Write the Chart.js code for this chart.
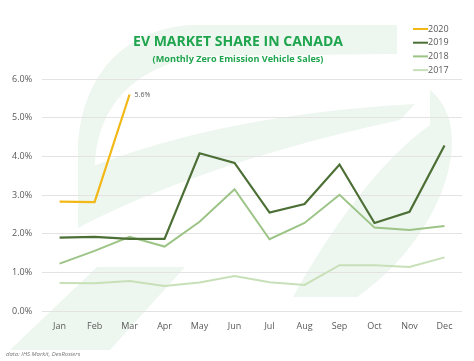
<!DOCTYPE html>
<html>
<head>
<meta charset="utf-8">
<script src="https://cdn.jsdelivr.net/npm/chart.js@4/dist/chart.umd.min.js"></script>
<style>
  html, body { margin: 0; padding: 0; background: #fff; }
  #wrap { width: 474px; height: 361px; position: relative; }
</style>
</head>
<body>
<div id="wrap"><canvas id="chart" width="474" height="361"></canvas></div>
<script>
const months = ["Jan", "Feb", "Mar", "Apr", "May", "Jun", "Jul", "Aug", "Sep", "Oct", "Nov", "Dec"];
const share2020 = [2.83, 2.82, 5.6];
const share2019 = [1.90, 1.92, 1.87, 1.87, 4.08, 3.83, 2.55, 2.77, 3.79, 2.28, 2.57, 4.28];
const share2018 = [1.23, 1.56, 1.92, 1.67, 2.31, 3.15, 1.86, 2.28, 3.01, 2.16, 2.10, 2.20];
const share2017 = [0.73, 0.72, 0.78, 0.65, 0.74, 0.91, 0.75, 0.68, 1.19, 1.19, 1.14, 1.39];
const yTicks = [0, 1, 2, 3, 4, 5, 6];

const green = "#1fa54d";

// faint leaf watermark behind the plot
const watermark = {
  id: "watermark",
  beforeDraw(c) {
    const ctx = c.ctx;
    ctx.save();
    ctx.fillStyle = "#eef6f0";
    // top arch
    ctx.beginPath();
    ctx.moveTo(78, 228);
    ctx.lineTo(78, 150);
    ctx.bezierCurveTo(80, 80, 120, 30, 190, 25);
    ctx.lineTo(397, 25);
    ctx.lineTo(397, 54);
    ctx.lineTo(200, 56);
    ctx.bezierCurveTo(120, 70, 95, 120, 95, 170);
    ctx.lineTo(95, 215);
    ctx.closePath();
    ctx.fill();
    // diagonal band
    ctx.beginPath();
    ctx.moveTo(78, 172);
    ctx.bezierCurveTo(180, 130, 300, 110, 415, 104);
    ctx.lineTo(400, 120);
    ctx.bezierCurveTo(260, 150, 150, 190, 78, 228);
    ctx.closePath();
    ctx.fill();
    // right leaf
    ctx.beginPath();
    ctx.moveTo(430, 90);
    ctx.bezierCurveTo(480, 130, 440, 240, 357, 297);
    ctx.lineTo(293, 297);
    ctx.bezierCurveTo(330, 230, 380, 160, 430, 125);
    ctx.closePath();
    ctx.fill();
    // bottom-left band
    ctx.beginPath();
    ctx.moveTo(10, 350);
    ctx.lineTo(97, 267);
    ctx.lineTo(185, 267);
    ctx.lineTo(110, 350);
    ctx.closePath();
    ctx.fill();
    ctx.restore();
  }
};

function fitFont(ctx, text, weight, family, width) {
  ctx.font = weight + " 20px " + family;
  const w = ctx.measureText(text).width;
  return weight + " " + (20 * width / w).toFixed(2) + "px " + family;
}

const overlay = {
  id: "overlay",
  afterDraw(c) {
    const ctx = c.ctx;
    ctx.save();
    ctx.textAlign = "center";
    ctx.textBaseline = "middle";
    ctx.fillStyle = green;
    const title = "EV MARKET SHARE IN CANADA";
    const sub = "(Monthly Zero Emission Vehicle Sales)";
    ctx.font = fitFont(ctx, title, "bold", "'Open Sans'", 210);
    ctx.fillText(title, 238, 42);
    ctx.font = fitFont(ctx, sub, "bold", "'Open Sans'", 171);
    ctx.fillText(sub, 238, 59);

    // legend
    const items = c.data.datasets;
    ctx.textAlign = "left";
    ctx.font = "9px 'Open Sans'";
    items.forEach((ds, i) => {
      const y = 29 + i * 13.7;
      ctx.strokeStyle = ds.borderColor;
      ctx.lineWidth = 2;
      ctx.beginPath();
      ctx.moveTo(413, y);
      ctx.lineTo(428, y);
      ctx.stroke();
      ctx.fillStyle = "#595959";
      ctx.fillText(ds.label, 428, y);
    });

    // value label on last 2020 point
    const meta = c.getDatasetMeta(0);
    const pt = meta.data[share2020.length - 1];
    ctx.font = "7px 'Open Sans'";
    ctx.fillStyle = "#595959";
    ctx.fillText(share2020[share2020.length - 1].toFixed(1) + "%", pt.x + 5, pt.y + 1);

    ctx.font = "italic 6px 'Open Sans'";
    ctx.fillStyle = "#777";
    ctx.fillText("data: IHS Markit, DesRosiers", 6, 354);
    ctx.restore();
  }
};

new Chart(document.getElementById("chart"), {
  type: "line",
  data: {
    labels: months,
    datasets: [
      { label: "2020", data: share2020, borderColor: "#f2b817", borderWidth: 2.2 },
      { label: "2019", data: share2019, borderColor: "#4c6f35", borderWidth: 2.2 },
      { label: "2018", data: share2018, borderColor: "#9cc486", borderWidth: 2 },
      { label: "2017", data: share2017, borderColor: "#c8e0b8", borderWidth: 2 }
    ]
  },
  options: {
    responsive: false,
    animation: false,
    elements: { point: { radius: 0 }, line: { tension: 0 } },
    layout: { padding: { top: 79, right: 12, bottom: 19, left: 2 } },
    plugins: { legend: { display: false }, title: { display: false }, tooltip: { enabled: false } },
    scales: {
      x: {
        offset: true,
        grid: { display: false, drawTicks: false, tickLength: 0 },
        border: { display: false },
        ticks: { color: "#595959", font: { family: "Open Sans", size: 9 }, padding: 10 }
      },
      y: {
        min: 0, max: 6,
        afterBuildTicks(ax) { ax.ticks = yTicks.map(v => ({ value: v })); },
        grid: { color: "#e3e3e3", lineWidth: 1, drawTicks: false },
        border: { display: false },
        ticks: { color: "#595959", font: { family: "Open Sans", size: 9 }, padding: 10, callback: v => v.toFixed(1) + "%" }
      }
    }
  },
  plugins: [watermark, overlay]
});
</script>
</body>
</html>
